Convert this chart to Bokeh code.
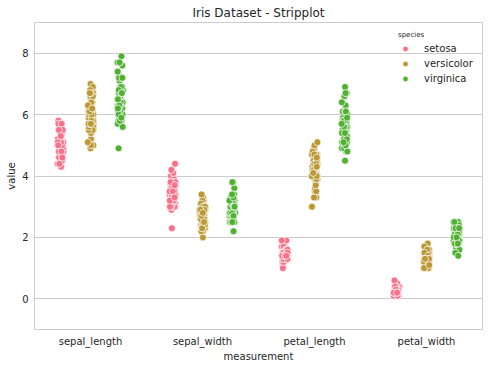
from bokeh.plotting import figure
from bokeh.models import FactorRange, Legend, LegendItem, FixedTicker, ColumnDataSource
from bokeh.transform import jitter
from bokeh.embed import file_html
from bokeh.resources import INLINE

measurements = ["sepal_length", "sepal_width", "petal_length", "petal_width"]
species = ["setosa", "versicolor", "virginica"]
colors = ["#f77189", "#bb9832", "#50b131"]
y_ticks = [0, 2, 4, 6, 8]

setosa_sepal_length = [5.1,4.9,4.7,4.6,5.0,5.4,4.6,5.0,4.4,4.9,5.4,4.8,4.8,4.3,5.8,5.7,5.4,5.1,5.7,5.1,5.4,5.1,4.6,5.1,4.8,5.0,5.0,5.2,5.2,4.7,4.8,5.4,5.2,5.5,4.9,5.0,5.5,4.9,4.4,5.1,5.0,4.5,4.4,5.0,5.1,4.8,5.1,4.6,5.3,5.0]
setosa_sepal_width = [3.5,3.0,3.2,3.1,3.6,3.9,3.4,3.4,2.9,3.1,3.7,3.4,3.0,3.0,4.0,4.4,3.9,3.5,3.8,3.8,3.4,3.7,3.6,3.3,3.4,3.0,3.4,3.5,3.4,3.2,3.1,3.4,4.1,4.2,3.1,3.2,3.5,3.6,3.0,3.4,3.5,2.3,3.2,3.5,3.8,3.0,3.8,3.2,3.7,3.3]
setosa_petal_length = [1.4,1.4,1.3,1.5,1.4,1.7,1.4,1.5,1.4,1.5,1.5,1.6,1.4,1.1,1.2,1.5,1.3,1.4,1.7,1.5,1.7,1.5,1.0,1.7,1.9,1.6,1.6,1.5,1.4,1.6,1.6,1.5,1.5,1.4,1.5,1.2,1.3,1.4,1.3,1.5,1.3,1.3,1.3,1.6,1.9,1.4,1.6,1.4,1.5,1.4]
setosa_petal_width = [0.2,0.2,0.2,0.2,0.2,0.4,0.3,0.2,0.2,0.1,0.2,0.2,0.1,0.1,0.2,0.4,0.4,0.3,0.3,0.3,0.2,0.4,0.2,0.5,0.2,0.2,0.4,0.2,0.2,0.2,0.2,0.4,0.1,0.2,0.2,0.2,0.2,0.1,0.2,0.2,0.3,0.3,0.2,0.6,0.4,0.3,0.2,0.2,0.2,0.2]

versicolor_sepal_length = [7.0,6.4,6.9,5.5,6.5,5.7,6.3,4.9,6.6,5.2,5.0,5.9,6.0,6.1,5.6,6.7,5.6,5.8,6.2,5.6,5.9,6.1,6.3,6.1,6.4,6.6,6.8,6.7,6.0,5.7,5.5,5.5,5.8,6.0,5.4,6.0,6.7,6.3,5.6,5.5,5.5,6.1,5.8,5.0,5.6,5.7,5.7,6.2,5.1,5.7]
versicolor_sepal_width = [3.2,3.2,3.1,2.3,2.8,2.8,3.3,2.4,2.9,2.7,2.0,3.0,2.2,2.9,2.9,3.1,3.0,2.7,2.2,2.5,3.2,2.8,2.5,2.8,2.9,3.0,2.8,3.0,2.9,2.6,2.4,2.4,2.7,2.7,3.0,3.4,3.1,2.3,3.0,2.5,2.6,3.0,2.6,2.3,2.7,3.0,2.9,2.9,2.5,2.8]
versicolor_petal_length = [4.7,4.5,4.9,4.0,4.6,4.5,4.7,3.3,4.6,3.9,3.5,4.2,4.0,4.7,3.6,4.4,4.5,4.1,4.5,3.9,4.8,4.0,4.9,4.7,4.3,4.4,4.8,5.0,4.5,3.5,3.8,3.7,3.9,5.1,4.5,4.5,4.7,4.4,4.1,4.0,4.4,4.6,4.0,3.3,4.2,4.2,4.2,4.3,3.0,4.1]
versicolor_petal_width = [1.4,1.5,1.5,1.3,1.5,1.3,1.6,1.0,1.3,1.4,1.0,1.5,1.0,1.4,1.3,1.4,1.5,1.0,1.5,1.1,1.8,1.3,1.5,1.2,1.3,1.4,1.4,1.7,1.5,1.0,1.1,1.0,1.2,1.6,1.5,1.6,1.5,1.3,1.3,1.3,1.2,1.4,1.2,1.0,1.3,1.2,1.3,1.3,1.1,1.3]

virginica_sepal_length = [6.3,5.8,7.1,6.3,6.5,7.6,4.9,7.3,6.7,7.2,6.5,6.4,6.8,5.7,5.8,6.4,6.5,7.7,7.7,6.0,6.9,5.6,7.7,6.3,6.7,7.2,6.2,6.1,6.4,7.2,7.4,7.9,6.4,6.3,6.1,7.7,6.3,6.4,6.0,6.9,6.7,6.9,5.8,6.8,6.7,6.7,6.3,6.5,6.2,5.9]
virginica_sepal_width = [3.3,2.7,3.0,2.9,3.0,3.0,2.5,2.9,2.5,3.6,3.2,2.7,3.0,2.5,2.8,3.2,3.0,3.8,2.6,2.2,3.2,2.8,2.8,2.7,3.3,3.2,2.8,3.0,2.8,3.0,2.8,3.8,2.8,2.8,2.6,3.0,3.4,3.1,3.0,3.1,3.1,3.1,2.7,3.2,3.3,3.0,2.5,3.0,3.4,3.0]
virginica_petal_length = [6.0,5.1,5.9,5.6,5.8,6.6,4.5,6.3,5.8,6.1,5.1,5.3,5.5,5.0,5.1,5.3,5.5,6.7,6.9,5.0,5.7,4.9,6.7,4.9,5.7,6.0,4.8,4.9,5.6,5.8,6.1,6.4,5.6,5.1,5.6,6.1,5.6,5.5,4.8,5.4,5.6,5.1,5.1,5.9,5.7,5.2,5.0,5.2,5.4,5.1]
virginica_petal_width = [2.5,1.9,2.1,1.8,2.2,2.1,1.7,1.8,1.8,2.5,2.0,1.9,2.1,2.0,2.4,2.3,1.8,2.2,2.3,1.5,2.3,2.0,2.0,1.8,2.1,1.8,1.8,1.8,2.1,1.6,1.9,2.0,2.2,1.5,1.4,2.3,2.4,1.8,1.8,2.1,2.4,2.3,1.9,2.3,2.5,2.3,1.9,2.0,2.3,1.8]

data = {
    "setosa": [setosa_sepal_length, setosa_sepal_width, setosa_petal_length, setosa_petal_width],
    "versicolor": [versicolor_sepal_length, versicolor_sepal_width, versicolor_petal_length, versicolor_petal_width],
    "virginica": [virginica_sepal_length, virginica_sepal_width, virginica_petal_length, virginica_petal_width],
}

TEXT = "#262626"
GRID = "#cccccc"
FONT = "DejaVu Sans"

p = figure(width=486, height=367, x_range=FactorRange(factors=measurements),
           y_range=(-1, 9), output_backend="svg", toolbar_location=None,
           title="Iris Dataset - Stripplot",
           min_border_left=34, min_border_right=4, min_border_top=0, min_border_bottom=38)

p.background_fill_color = "white"
p.border_fill_color = "white"
p.outline_line_color = GRID
p.outline_line_width = 1

p.title.text_font = FONT
p.title.text_font_size = "12px"
p.title.text_font_style = "normal"
p.title.text_color = TEXT
p.title.align = "center"
p.title.standoff = 6
p.title.offset = 0

p.xgrid.visible = False
p.ygrid.grid_line_color = GRID
p.ygrid.grid_line_width = 1

p.yaxis.ticker = FixedTicker(ticks=y_ticks)
for ax in (p.xaxis[0], p.yaxis[0]):
    ax.axis_line_color = None
    ax.major_tick_line_color = None
    ax.minor_tick_line_color = None
    ax.major_tick_out = 0
    ax.major_tick_in = 0
    ax.major_label_text_font = FONT
    ax.major_label_text_font_size = "10px"
    ax.major_label_text_color = TEXT
    ax.axis_label_text_font = FONT
    ax.axis_label_text_font_size = "10px"
    ax.axis_label_text_font_style = "normal"
    ax.axis_label_text_color = TEXT
    ax.major_label_standoff = 6

p.xaxis.axis_label = "measurement"
p.yaxis.axis_label = "value"
p.xaxis.major_label_standoff = 6
p.xaxis.axis_label_standoff = 1
p.yaxis.axis_label_standoff = 2

offsets = [-0.267, 0.0, 0.267]
items = []
for sp, col, off in zip(species, colors, offsets):
    xs, ys = [], []
    for m, vals in zip(measurements, data[sp]):
        xs += [m] * len(vals)
        ys += vals
    src = ColumnDataSource(dict(measurement=xs, value=ys))
    r = p.scatter(x=jitter("measurement", width=0.053, mean=off, range=p.x_range),
                  y="value", source=src, size=7, fill_color=col,
                  line_color="white", line_width=0.7)
    items.append(LegendItem(label=sp, renderers=[r]))

legend = Legend(items=items, title="species", location=(364, 243))
legend.title_text_font = FONT
legend.title_text_font_size = "7px"
legend.title_text_font_style = "normal"
legend.title_text_color = TEXT
legend.title_standoff = 2
legend.label_text_font = FONT
legend.label_text_font_size = "10px"
legend.label_text_color = TEXT
legend.label_standoff = 12
legend.label_height = 15
legend.glyph_width = 14
legend.glyph_height = 15
legend.spacing = 0
legend.padding = 6
legend.margin = 0
legend.border_line_color = None
legend.background_fill_alpha = 0
p.add_layout(legend)

open("out.html", "w").write(file_html(p, INLINE))
